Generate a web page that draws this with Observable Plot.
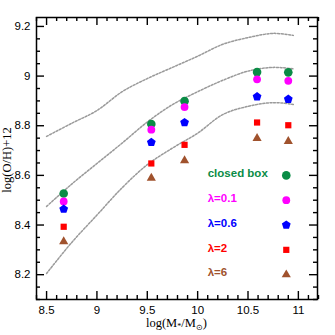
<!DOCTYPE html>
<html><head><meta charset="utf-8">
<script src="https://cdn.jsdelivr.net/npm/d3@7"></script>
<script src="https://cdn.jsdelivr.net/npm/@observablehq/plot@0.6"></script>
<style>body{margin:0;background:#fff}</style>
</head><body><div id="chart"></div>
<script>
// ---- data ----
const massValues = [8.67, 9.54, 9.87, 10.59, 10.90];
const closedBox = [8.527, 8.807, 8.899, 9.016, 9.015];
const lambda01 = [8.495, 8.784, 8.875, 8.987, 8.981];
const lambda06 = [8.464, 8.733, 8.813, 8.917, 8.907];
const lambda2 = [8.393, 8.648, 8.723, 8.813, 8.802];
const lambda6 = [8.333, 8.589, 8.660, 8.749, 8.737];

const curveX = [8.5, 8.75, 9.0, 9.25, 9.5, 9.75, 10.0, 10.25, 10.5, 10.75, 10.95];
const upperCurve = [8.757, 8.81, 8.861, 8.937, 8.99, 9.035, 9.08, 9.128, 9.155, 9.172, 9.164];
const middleCurve = [8.475, 8.565, 8.648, 8.73, 8.815, 8.885, 8.937, 8.983, 9.02, 9.035, 9.029];
const lowerCurve = [8.205, 8.33, 8.44, 8.55, 8.643, 8.71, 8.77, 8.845, 8.878, 8.893, 8.886];

const seriesNames = ["closed box", "λ=0.1", "λ=0.6", "λ=2", "λ=6"];
const legendY = [8.6, 8.5, 8.4, 8.3, 8.2];
const xTickLabels = [8.5, 9, 9.5, 10, 10.5, 11];
const yTickLabels = [8.2, 8.4, 8.6, 8.8, 9, 9.2];

// ---- styling ----
const W = 335, H = 335, mT = 17, mB = 36, mL = 36, mR = 18;
const plotH = H - mT - mB, plotW = W - mL - mR;
const xDomain = [8.4, 11.19], yDomain = [8.1, 9.236];
const xPerPx = (xDomain[1] - xDomain[0]) / plotW, yPerPx = (yDomain[1] - yDomain[0]) / plotH;
const pentagon = {
  draw(ctx, size) {
    const r = Math.sqrt(size / (2.5 * Math.sin(2 * Math.PI / 5)));
    for (let i = 0; i < 5; i++) {
      const a = -Math.PI / 2 + i * 2 * Math.PI / 5;
      const px = r * Math.cos(a), py = r * Math.sin(a);
      i ? ctx.lineTo(px, py) : ctx.moveTo(px, py);
    }
    ctx.closePath();
  }
};
const styles = [
  {color: "#0a8c46", symbol: "circle", r: 4.3},
  {color: "#ff00ff", symbol: "circle", r: 3.9},
  {color: "#0000ff", symbol: pentagon, r: 4.0},
  {color: "#ff0000", symbol: "square", r: 3.5},
  {color: "#a0522d", symbol: "triangle", r: 3.4}
];
const seriesValues = [closedBox, lambda01, lambda06, lambda2, lambda6];

const points = [];
seriesValues.forEach((vals, s) => vals.forEach((v, i) => points.push({series: s, x: massValues[i], y: v})));
const curves = [upperCurve, middleCurve, lowerCurve].map(c => curveX.map((x, i) => ({x, y: c[i]})));
const legend = seriesNames.map((name, s) => ({series: s, name, y: legendY[s]}));

const minorX = d3.range(84, 113).map(d => d / 10).filter(d => !xTickLabels.some(t => Math.abs(t - d) < 1e-9));
const minorY = d3.range(162, 185).map(d => d / 20).filter(d => !yTickLabels.some(t => Math.abs(t - d) < 1e-9));

const marks = [];
curves.forEach(c => marks.push(Plot.line(c, {x: "x", y: "y", curve: "catmull-rom", stroke: "#9a9a9a", strokeWidth: 1.5, strokeDasharray: "2,1.6"})));
styles.forEach((st, s) => {
  marks.push(Plot.dot(points.filter(p => p.series === s), {x: "x", y: "y", symbol: st.symbol, r: st.r, fill: st.color, stroke: "none"}));
  marks.push(Plot.dot(legend.filter(p => p.series === s), {x: () => 10.88, y: "y", symbol: st.symbol, r: st.r, fill: st.color, stroke: "none"}));
  marks.push(Plot.text(legend.filter(p => p.series === s), {x: () => 10.1, y: "y", text: "name", fill: st.color, textAnchor: "start", dy: -2, fontWeight: "bold", fontSize: 11.5, fontFamily: "Liberation Sans, Arial, sans-serif", style: "letter-spacing:0.4px"}));
});
// inward ticks on all four sides
const tk = {stroke: "black", strokeWidth: 1.4};
const tickXs = (vals, len) => [
  Plot.ruleX(vals, {x: d => d, y1: () => yDomain[0], y2: () => yDomain[0] + len * yPerPx, ...tk}),
  Plot.ruleX(vals, {x: d => d, y1: () => yDomain[1], y2: () => yDomain[1] - len * yPerPx, ...tk})
];
const tickYs = (vals, len) => [
  Plot.ruleY(vals, {y: d => d, x1: () => xDomain[0], x2: () => xDomain[0] + len * xPerPx, ...tk}),
  Plot.ruleY(vals, {y: d => d, x1: () => xDomain[1], x2: () => xDomain[1] - len * xPerPx, ...tk})
];
marks.push(...tickXs(xTickLabels, 8), ...tickXs(minorX, 4), ...tickYs(yTickLabels, 8), ...tickYs(minorY, 4));
marks.push(Plot.axisX({ticks: xTickLabels, tickSize: 0, tickPadding: 6, label: null, tickFormat: d => String(d)}));
marks.push(Plot.axisY({ticks: yTickLabels, tickSize: 0, tickPadding: 6, label: null, tickFormat: d => String(d)}));
marks.push(Plot.frame({stroke: "black", strokeWidth: 1.5}));

const chart = Plot.plot({
  width: W, height: H,
  marginTop: mT, marginBottom: mB, marginLeft: mL, marginRight: mR,
  x: {domain: xDomain},
  y: {domain: yDomain},
  style: {fontFamily: "Liberation Sans, Arial, sans-serif", fontSize: "11.5px", color: "black", background: "white"},
  marks
});
const svg = d3.select(chart);
const xl = svg.append("text").attr("x", mL + plotW / 2).attr("y", 327)
  .attr("text-anchor", "middle").attr("font-family", "Liberation Serif, Times New Roman, serif").attr("font-size", 12.5).attr("fill", "black");
xl.append("tspan").text("log(M");
xl.append("tspan").attr("font-size", 8).attr("dy", 2).text("*");
xl.append("tspan").attr("dy", -2).text("/M");
xl.append("tspan").attr("font-size", 8).attr("dy", 3).text("⊙");
xl.append("tspan").attr("dy", -3).text(")");
svg.append("text").attr("transform", `translate(11,${mT + plotH / 2 + 2}) rotate(-90)`)
  .attr("text-anchor", "middle").attr("font-family", "Liberation Serif, Times New Roman, serif").attr("font-size", 12.5).attr("fill", "black")
  .text("log(O/H)+12");
document.getElementById("chart").appendChild(chart);
</script>
</body></html>
